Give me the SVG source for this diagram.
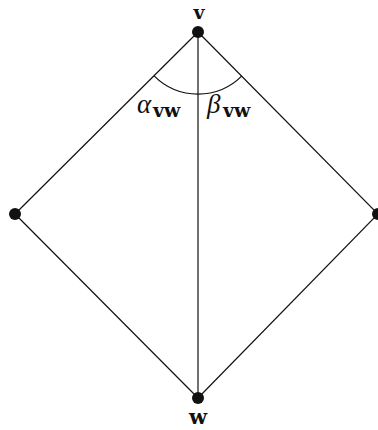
<svg xmlns="http://www.w3.org/2000/svg" width="378" height="430" viewBox="0 0 378 430">
<style>
.e{stroke:#111;stroke-width:1.2;fill:none}
.d{fill:#111}
.lb{font-family:"DejaVu Serif","Liberation Serif",serif;font-weight:bold;fill:#111}
.gr{font-family:"Liberation Serif","DejaVu Serif",serif;font-style:italic;fill:#111}
</style>
<rect width="378" height="430" fill="#fff"/>
<g id="connectors">
<line class="e" x1="198" y1="32" x2="15" y2="214"/>
<line class="e" x1="198" y1="32" x2="378" y2="214"/>
<line class="e" x1="198" y1="32" x2="198" y2="398"/>
<line class="e" x1="15" y1="214" x2="198" y2="398"/>
<line class="e" x1="378" y1="214" x2="198" y2="398"/>
<path class="e" d="M154.1,75.9 A62,62 0 0 0 241.9,75.9"/>
</g>
<g id="v"><circle class="d" cx="198" cy="32" r="6"/><text class="lb" x="199" y="19" font-size="19" text-anchor="middle">v</text></g>
<g id="left"><circle class="d" cx="15" cy="214" r="6"/></g>
<g id="right"><circle class="d" cx="378" cy="214" r="6"/></g>
<g id="w"><circle class="d" cx="198" cy="398" r="6"/><text class="lb" x="198" y="424" font-size="21" text-anchor="middle">w</text></g>
<g id="labels">
<text class="gr" x="137" y="113" font-size="27">α</text>
<text class="lb" x="153" y="117" font-size="19">vw</text>
<text class="gr" x="207" y="113" font-size="27">β</text>
<text class="lb" x="223" y="117" font-size="19">vw</text>
</g>
</svg>
